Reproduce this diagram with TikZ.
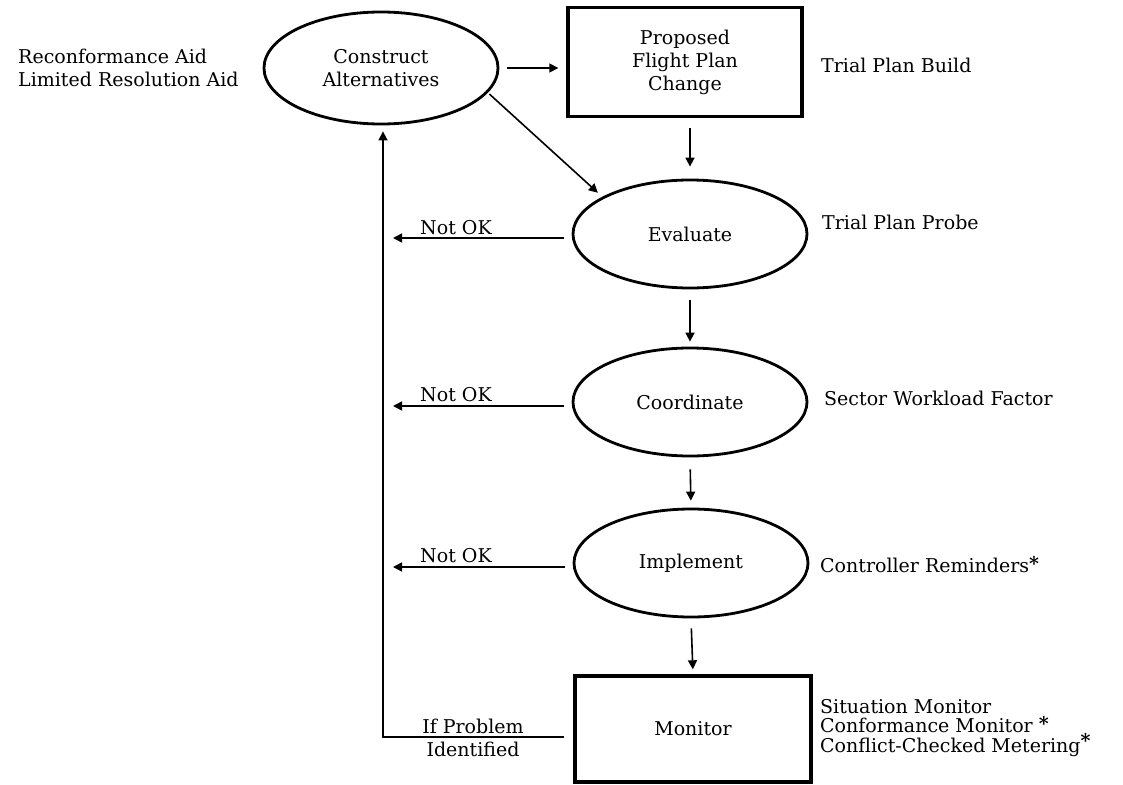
\documentclass[tikz,border=0pt]{standalone}
\usepackage{fontspec}
\setmainfont{DejaVu Serif}
\usetikzlibrary{arrows.meta,shapes.geometric}
% raised bold asterisk used after some tool names
\newcommand{\starmark}[1][2pt]{\raisebox{#1}{\bfseries *}}
\begin{document}
\begin{tikzpicture}[x=1pt,y=-1pt,
  every node/.style={font=\fontsize{19}{23}\selectfont, inner sep=0pt},
  stage/.style={draw, ellipse, line width=2.8pt, minimum width=234pt, minimum height=108pt, align=center},
  block/.style={draw, rectangle, line width=3.4pt, minimum width=234pt, minimum height=108pt, align=center},
  sidenote/.style={anchor=west, align=left},
  flowline/.style={line width=1.6pt, -{Triangle[length=9pt,width=9pt]}},
]
\useasboundingbox (0,0) rectangle (1123,784);

% process steps
\node[stage, minimum height=112pt] (ca) at (381,68) {Construct\\Alternatives};
\node[block, minimum height=109pt] (pf) at (685,62) {Proposed\\Flight Plan\\Change};
\node[stage] (ev) at (690,234) {Evaluate};
\node[stage] (co) at (690,402) {Coordinate};
\node[stage] (im) at (691,563) {Implement};
\node[block, minimum width=236pt, minimum height=106pt] (mo) at (693,729) {Monitor};

% supporting functions
\node[sidenote] (aids) at (18,68) {Reconformance Aid\\Limited Resolution Aid};
\node[sidenote] (tpb) at (821,65) {Trial Plan Build};
\node[sidenote] (tpp) at (822,222) {Trial Plan Probe};
\node[sidenote] (swf) at (824,398) {Sector Workload Factor};
\node[sidenote] (crm) at (820,565) {Controller Reminders\starmark};
\node[sidenote, font=\fontsize{19}{19.5}\selectfont] (mon) at (820,728)
  {Situation Monitor\\Conformance Monitor \starmark\\Conflict-Checked Metering\starmark[5pt]};

% feedback labels
\node[anchor=west] (nk1) at (420,228) {Not OK};
\node[anchor=west] (nk2) at (420,395) {Not OK};
\node[anchor=west] (nk3) at (420,556) {Not OK};
\node (ifp) at (473,726) {If Problem};
\node (idf) at (473,749) {Identified};

% feedback column
\coordinate (fb) at (383,0);

% main flow
\draw[flowline, shorten <=8pt, shorten >=8pt] (ca.east) -- (ca.east -| pf.west);
\draw[flowline, shorten <=2pt, shorten >=6pt] (ca.-13) -- (ev.157);
\draw[flowline, shorten <=10pt, shorten >=12pt] (ev.north |- pf.south) -- (ev.north);
\draw[flowline, shorten <=11pt, shorten >=5pt] (ev.south) -- (co.north);
\draw[flowline, shorten <=12pt, shorten >=7pt] (co.south) -- (im.north);
\draw[flowline, shorten <=10pt, shorten >=5pt] (im.south) -- (mo.north);

% rejections back to the feedback column
\draw[flowline, shorten <=8pt, shorten >=10pt] ([yshift=-4pt]ev.west) -- ([yshift=-4pt]ev.west -| fb);
\draw[flowline, shorten <=8pt, shorten >=10pt] ([yshift=-4pt]co.west) -- ([yshift=-4pt]co.west -| fb);
\draw[flowline, shorten <=8pt, shorten >=10pt] ([yshift=-4pt]im.west) -- ([yshift=-4pt]im.west -| fb);

% problem found while monitoring
\draw[flowline, shorten <=9pt, shorten >=6pt] ([yshift=-8pt]mo.west) -- ([yshift=-8pt]mo.west -| fb) -- (ca.south -| fb);
\end{tikzpicture}
\end{document}
